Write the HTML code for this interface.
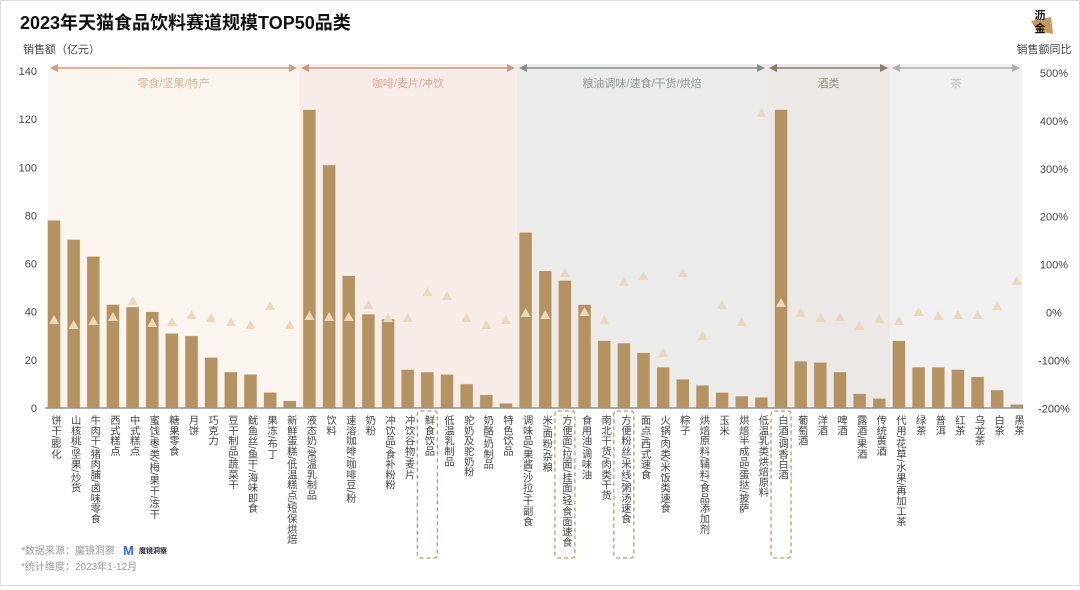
<!DOCTYPE html>
<html><head><meta charset="utf-8">
<style>
html,body{margin:0;padding:0;background:#fff;}
body{width:1080px;height:586px;overflow:hidden;font-family:"Liberation Sans","Noto Sans CJK SC",sans-serif;}
#wrap{position:relative;width:1078px;height:584px;border:1px solid #ddd;}
</style></head><body><div id="wrap"><svg id="s" width="1078" height="584" xmlns="http://www.w3.org/2000/svg" style="font-family:'Liberation Sans','Noto Sans CJK SC',sans-serif"></svg></div>
<script>
const names=["饼干/膨化","山核桃/坚果/炒货","牛肉干/猪肉脯/卤味零食","西式糕点","中式糕点","蜜饯/枣类/梅/果干/冻干","糖果零食","月饼","巧克力","豆干制品/蔬菜干","鱿鱼丝/鱼干/海味即食","果冻/布丁","新鲜蛋糕/低温糕点/短保烘焙",
"液态奶/常温乳制品","饮料","速溶咖啡/咖啡豆/粉","奶粉","冲饮品/食补粉粉","冲饮谷物/麦片","鲜食饮品","低温乳制品","驼奶及驼奶粉","奶酪/奶制品","特色饮品",
"调味品/果酱/沙拉/干副食","米/面粉/杂粮","方便面/拉面/挂面/轻食面速食","食用油/调味油","南北干货/肉类干货","方便粉丝/米线/粥汤速食","面点/西式速食","火锅/肉类/米饭类速食","粽子","烘焙原料/辅料/食品添加剂","玉米","烘焙半成品/蛋挞/披萨","低温乳类烘焙原料",
"白酒/调香白酒","葡萄酒","洋酒","啤酒","露酒/果酒","传统黄酒",
"代用/花草/水果/再加工茶","绿茶","普洱","红茶","乌龙茶","白茶","黑茶"];
const vals=[78,70,63,43,42,40,31,30,21,15,14,6.5,3,124,101,55,39,37,16,15,14,10,5.5,2,73,57,53,43,28,27,23,17,12,9.5,6.5,5,4.5,124,19.5,19,15,6,4,28,17,17,16,13,7.5,1.5];
const tri=[319,324,320,316,300,322,321,314,317,321,324,305,324,315,316,316,304,317,317,291,295,317,324,319,312,314,272,311,319,281,275,352,272,335,304,321,112,302,312,317,316,325,318,320,311,315,314,314,305,280];
const s=document.getElementById('s');let h='';
const X=i=>53+19.65*i, Y=v=>407-v*2.407;
const bands=[[47,298,'#faf5ee','#c9a27a','零食/坚果/特产','#d8b593'],[298,516,'#f7ece8','#c89a80','咖啡/麦片/冲饮','#d3ab98'],[516,766,'#ebecea','#7f8f8a','粮油调味/速食/干货/烘焙','#8f9994'],[766,889,'#ebe8e5','#8a7a66','酒类','#9a8f84'],[889,1021,'#f0f0f0','#b0b0b0','茶','#c0c0c0']];
bands.forEach(b=>{h+=`<rect x="${b[0]}" y="63" width="${b[1]-b[0]}" height="344" fill="${b[2]}"/>`;
const a=b[0]+2,c=b[1]-2;h+=`<line x1="${a+5}" y1="67" x2="${c-5}" y2="67" stroke="${b[3]}" stroke-width="1.5"/><polygon points="${a},67 ${a+8},63 ${a+8},71" fill="${b[3]}"/><polygon points="${c},67 ${c-8},63 ${c-8},71" fill="${b[3]}"/>`;
h+=`<text x="${(b[0]+b[1])/2}" y="86" font-size="11" fill="${b[5]}" text-anchor="middle">${b[4]}</text>`;});
for(let v=0;v<=140;v+=20)h+=`<text x="36" y="${Y(v)+4}" font-size="11" fill="#444" text-anchor="end">${v}</text>`;
for(let p=500,k=0;p>=-200;p-=100,k++)h+=`<text x="1053" y="${72+k*47.9+4}" font-size="11" fill="#444" text-anchor="middle">${p}%</text>`;
vals.forEach((v,i)=>{h+=`<rect x="${X(i)-6.5}" y="${Y(v)}" width="13" height="${407-Y(v)}" fill="#b59262" stroke="#f3e6d2" stroke-width="0.6"/>`;});
h+=`<line x1="44" y1="407" x2="1022" y2="407" stroke="#8b919a" stroke-width="1.5"/>`;
tri.forEach((t,i)=>{const x=X(i);h+=`<polygon points="${x},${t-5} ${x-5},${t+4} ${x+5},${t+4}" fill="#ead9bd"/>`;});
[19,26,29,37].forEach(i=>{h+=`<rect x="${X(i)-10}" y="410" width="20" height="147" rx="3" fill="none" stroke="#c49a5c" stroke-width="1.3" stroke-dasharray="4,3"/>`;});
h+=`<text x="19" y="28" font-size="18" font-weight="bold" fill="#111">2023年天猫食品饮料赛道规模TOP50品类</text>`;
h+=`<text x="22" y="52" font-size="11" fill="#444">销售额（亿元）</text>`;
h+=`<text x="1043" y="52" font-size="11" fill="#444" text-anchor="middle">销售额同比</text>`;
h+=`<polygon points="1030,20 1050,16 1052,33 1036,30" fill="#c59a5c"/><text x="1039" y="18" font-size="11" font-weight="bold" fill="#111" text-anchor="middle">沥</text><text x="1039" y="31" font-size="11" font-weight="bold" fill="#111" text-anchor="middle">金</text>`;
h+=`<text x="20" y="553" font-size="10" fill="#999">*数据来源：魔镜洞察</text><text x="20" y="569" font-size="10" fill="#999">*统计维度：2023年1-12月</text>`;
h+=`<text x="122" y="554" font-size="13" font-weight="bold" fill="#2f6ee8">M</text><text x="138" y="552" font-size="7" fill="#223" font-weight="bold">魔镜洞察</text>`;
s.innerHTML=h;
const w=document.getElementById('wrap');
names.forEach((n,i)=>{const d=document.createElement('div');d.textContent=n;d.style.cssText=`position:absolute;left:${X(i)-7}px;top:414px;writing-mode:vertical-rl;font-size:10.3px;line-height:14px;color:#444;white-space:nowrap;`;w.appendChild(d);});
</script></body></html>
